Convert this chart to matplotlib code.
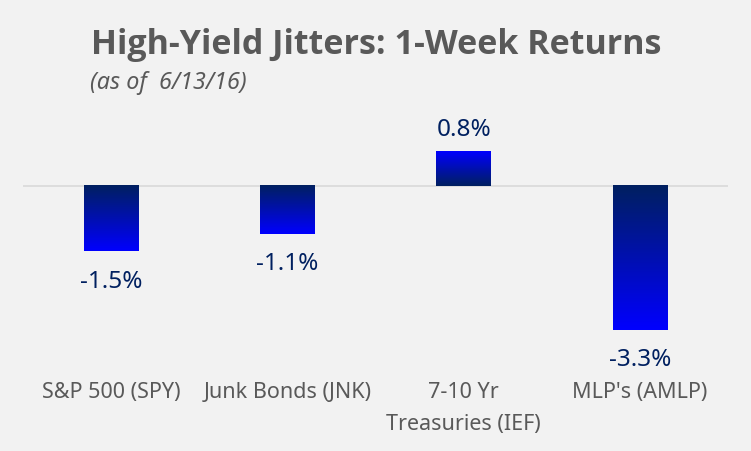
import matplotlib
matplotlib.use("Agg")
import matplotlib.pyplot as plt
import numpy as np
from matplotlib.colors import LinearSegmentedColormap
from matplotlib.transforms import blended_transform_factory

categories = ["S&P 500 (SPY)", "Junk Bonds (JNK)", "7-10 Yr\nTreasuries (IEF)", "MLP's (AMLP)"]
returns = [-1.5, -1.1, 0.8, -3.3]
value_labels = ["-1.5%", "-1.1%", "0.8%", "-3.3%"]
title = "High-Yield Jitters: 1-Week Returns"
subtitle = "(as of  6/13/16)"

plt.rcParams['font.family'] = ['Noto Sans', 'DejaVu Sans']

bg = "#F2F2F2"
gray = "#595959"
navy = "#002060"

fig = plt.figure(figsize=(7.51, 4.51), dpi=100, facecolor=bg)
ax = fig.add_axes([23/751, 1 - 352/451, 705/751, 218.5/451], facecolor=bg)

x = np.arange(len(categories))
bars = ax.bar(x, returns, width=0.31, color="none", edgecolor="none")
ax.set_xlim(-0.5, 3.5)
ax.set_ylim(-3.8, 1.2)

cmap = LinearSegmentedColormap.from_list("g", [navy, "#0000FF"])
grad = np.linspace(0, 1, 256).reshape(-1, 1)
for rect, v in zip(bars, returns):
    x0 = rect.get_x()
    w = rect.get_width()
    if v >= 0:
        img = grad
        ext = (x0, x0 + w, 0, v)
    else:
        img = grad[::-1]
        ext = (x0, x0 + w, v, 0)
    ax.imshow(img, cmap=cmap, aspect="auto", extent=ext, origin="lower",
              interpolation="bilinear", zorder=2)

ax.axhline(0, color="#D9D9D9", lw=1.2, zorder=1)

for xi, v, lab in zip(x, returns, value_labels):
    off = 11 if v >= 0 else -26
    ax.annotate(lab, (xi, v), xytext=(0, off), textcoords="offset points",
                ha="center", va="baseline", fontsize=17.5, color=navy)

for s in ax.spines.values():
    s.set_visible(False)
ax.set_xticks([])
ax.set_yticks([])

tr = blended_transform_factory(ax.transData, fig.transFigure)
for xi, cat in zip(x, categories):
    for j, line in enumerate(cat.split("\n")):
        ax.text(xi, 1 - (398 + 32 * j) / 451, line, transform=tr, ha="center",
                va="baseline", fontsize=15.5, color=gray)

fig.text(91/751, 1 - 54/451, title, ha="left", va="baseline", fontsize=24.5,
         fontweight="bold", color=gray, family=["Open Sans", "DejaVu Sans"])
fig.text(90/751, 1 - 89/451, subtitle, ha="left", va="baseline", fontsize=16.8,
         style="italic", color=gray)

fig.savefig("out.png", dpi=100, facecolor=bg)
